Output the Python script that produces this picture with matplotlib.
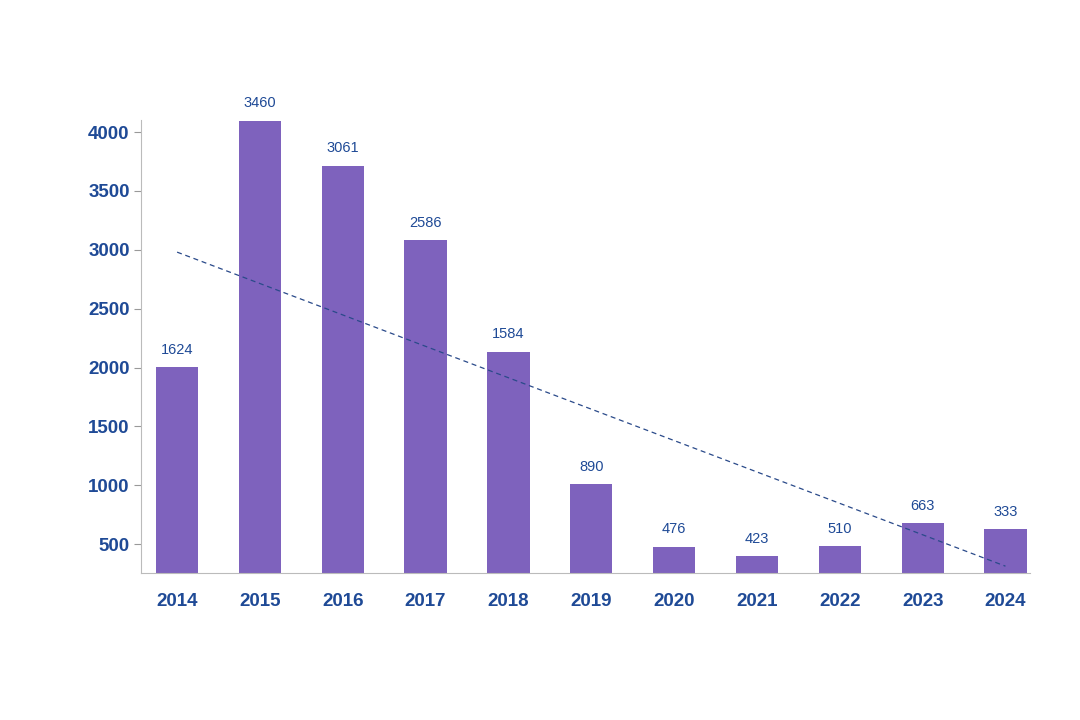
import matplotlib
matplotlib.use("Agg")
import matplotlib.pyplot as plt
import numpy as np

years = ["2014","2015","2016","2017","2018","2019","2020","2021","2022","2023","2024"]
bar_heights = [2003, 4093, 3711, 3082, 2131, 1010, 475, 398, 483, 678, 626]
value_labels = [1624, 3460, 3061, 2586, 1584, 890, 476, 423, 510, 663, 333]
trend_ends = [2980, 313]

plt.rcParams["font.family"] = "Liberation Sans"
txt = "#1F4A96"
fig = plt.figure(figsize=(10.8, 7.2), dpi=100)
ax = fig.add_axes([0.131, 0.204, 0.823, 0.629])
x = np.arange(len(years))
ax.bar(x, bar_heights, width=0.51, color="#7E62BD", bottom=0)
for xi, h, v in zip(x, bar_heights, value_labels):
    ax.text(xi, h + 90, str(v), ha="center", va="bottom", fontsize=10.5, color=txt)
ax.plot([x[0], x[-1]], trend_ends, ls=(0, (4, 3)), color="#2A4A8A", lw=0.9)
ax.set_ylim(254, 4100)
ax.set_xlim(-0.43, 10.3)
ax.set_xticks(x, years)
ax.set_yticks(range(500, 4001, 500))
ax.tick_params(axis="x", length=0, pad=14, labelsize=13.5, labelcolor=txt)
ax.tick_params(axis="y", length=5, color="#999999", labelsize=13.5, labelcolor=txt)
for l in ax.get_xticklabels() + ax.get_yticklabels():
    l.set_fontweight("bold")
for s in ["top", "right"]:
    ax.spines[s].set_visible(False)
for s in ["left", "bottom"]:
    ax.spines[s].set_color("#BBBBBB")
fig.savefig("out.png", dpi=100)
